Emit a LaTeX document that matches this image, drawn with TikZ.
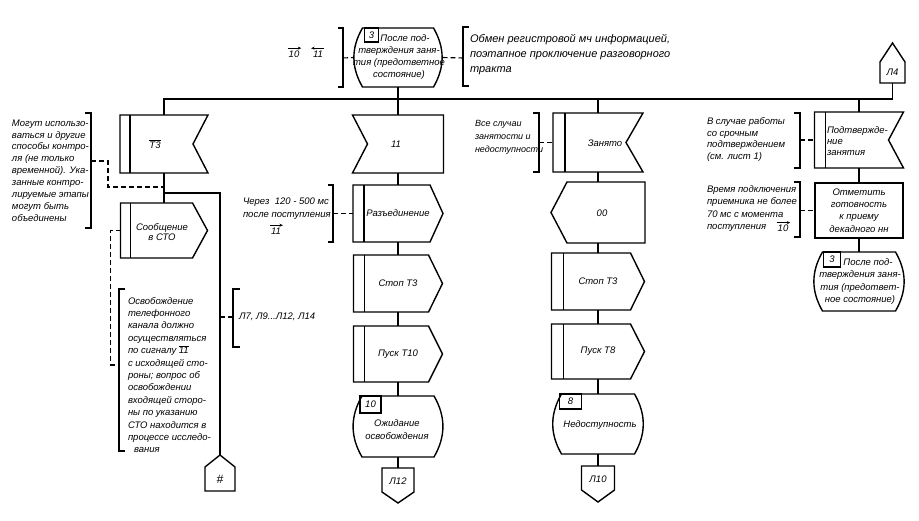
\documentclass[tikz,border=0pt]{standalone}
\usepackage{fontspec}
\setmainfont{Liberation Sans}
\usetikzlibrary{calc,arrows.meta}
\newcommand\fsz[2]{\fontsize{#1}{#2}\selectfont\itshape}
\newcommand\InR[3]{%
 \draw[shp] (#1.north west) -- (#1.north east) -- ([xshift=-#2pt]#1.east) -- (#1.south east) -- (#1.south west) -- cycle;
 \draw[shp] ([xshift=#3pt]#1.north west) -- ([xshift=#3pt]#1.south west);}
\newcommand\InL[2]{\draw[shp] (#1.north west) -- (#1.north east) -- (#1.south east) -- (#1.south west) -- ([xshift=#2pt]#1.west) -- cycle;}
\newcommand\OutR[3]{%
 \draw[shp] (#1.north west) -- ([xshift=-#2pt]#1.north east) -- (#1.east) -- ([xshift=-#2pt]#1.south east) -- (#1.south west) -- cycle;
 \draw[shp] ([xshift=#3pt]#1.north west) -- ([xshift=#3pt]#1.south west);}
\newcommand\OutL[2]{\draw[shp] ([xshift=#2pt]#1.north west) -- (#1.north east) -- (#1.south east) -- ([xshift=#2pt]#1.south west) -- (#1.west) -- cycle;}
\newcommand\StateShp[2]{\draw[shp] ([xshift=#2pt]#1.north west) -- ([xshift=-#2pt]#1.north east) to[out=-60,in=60] ([xshift=-#2pt]#1.south east) -- ([xshift=#2pt]#1.south west) to[out=120,in=-120] cycle;}
\newcommand\NumBox[5]{%
 \draw[shp, line width=1.1pt] ([xshift=#2pt]#1.north west) rectangle ++(#3,#4);
 \path ([xshift=#2pt]#1.north west) ++(#3/2,#4/2) node[txt] (#1n) {#5};}
\newcommand\ConnUp[2]{\draw[shp] (#1.south west) -- ([yshift=-#2pt]#1.north west) -- (#1.north) -- ([yshift=-#2pt]#1.north east) -- (#1.south east) -- cycle;}
\newcommand\ConnDown[2]{\draw[shp] (#1.north west) -- (#1.north east) -- ([yshift=#2pt]#1.south east) -- (#1.south) -- ([yshift=#2pt]#1.south west) -- cycle;}
\newcommand\Brk[4]{% x, y1, y2, tick (negative = left)
 \draw[brk] (#1+#4,#2) -- (#1,#2) -- (#1,#3) -- (#1+#4,#3);}
\newcommand\ArrR[1]{\draw[sig] ([xshift=-1pt,yshift=2.5pt]#1.north west) -- ([xshift=2pt,yshift=2.5pt]#1.north east);}
\newcommand\ArrL[1]{\draw[sig] ([xshift=1pt,yshift=2.5pt]#1.north east) -- ([xshift=-2pt,yshift=2.5pt]#1.north west);}
\tikzset{
 shp/.style={line width=1.4pt, line join=miter},
 conn/.style={line width=1.3pt},
 dsh/.style={line width=1.1pt, dash pattern=on 5pt off 3pt},
 brk/.style={line width=1.3pt},
 sig/.style={line width=0.8pt, -{Stealth[length=3.5pt,width=3pt]}},
 box/.style={inner sep=0pt, outer sep=0pt, font=\fsz{9.5}{12}},
 txt/.style={inner sep=0pt, outer sep=0pt, font=\fsz{9.5}{12}},
 sz/.style 2 args={minimum width=#1pt, minimum height=#2pt},
}
\begin{document}
\begin{tikzpicture}[x=1pt,y=-1pt]
\fill[white] (0,0) rectangle (919,521);
\useasboundingbox (0,0) rectangle (919,521);

% ---------- top state ----------
\node[box, sz={89}{59}] (ts) at (398,57.5) {};
\StateShp{ts}{9}
\NumBox{ts}{11}{14}{14}{3}
\node[txt, align=center] (tst) at (399,57) {\hspace*{12pt}После под-\\тверждения заня-\\тия (предответное\\состояние)};
\Brk{343}{28}{87}{-5}
\coordinate (bTL) at (343,58);
\draw[dsh] (bTL) -- (ts.west);
\node[txt] (a10) at (294,54) {10};
\ArrR{a10}
\node[txt] (a11) at (318,54) {11};
\ArrL{a11}
\Brk{463}{27}{86}{6}
\coordinate (bTR) at (463,58);
\draw[dsh] (ts.east) -- (bTR);
\node[txt, anchor=west, align=left, font=\fsz{11}{15}] (obmen) at (470,55) {Обмен регистровой мч информацией,\\поэтапное проключение разговорного\\тракта};

% ---------- connector L4 and bus ----------
\node[box, sz={25}{40}] (L4) at (892.5,63) {};
\ConnUp{L4}{19}
\node[txt] (L4t) at (892.5,72) {Л4};
\coordinate (busL) at (164,99);
\coordinate (busR) at (892.5,99);

% ---------- column 1 ----------
\node[box, sz={88}{58}] (in1) at (164,144) {};
\InR{in1}{15}{10}
\node[txt] (in1t) at (155,144) {$\overline{\hbox{Т3}}$};
\node[box, sz={87}{55}] (out1) at (164,230.5) {};
\OutR{out1}{15}{10}
\node[txt, align=center, font=\fsz{9.5}{10}] (out1t) at (162,232) {Сообщение\\в СТО};
\coordinate (j1) at (164,187);
\coordinate (j2) at (164,193);
\node[box, sz={30}{36}] (hash) at (220,473) {};
\ConnUp{hash}{12}
\node[txt, font=\fsz{12}{12}] (hasht) at (220,479) {\#};

\draw[conn] (L4.south) -- (busR) -- (busL) -- (in1.north);
\draw[conn] (in1.south) -- (out1.north);
\draw[conn] (j2) -| (hash.north);

\Brk{91}{113}{228}{-6}
\coordinate (bMog) at (91,161);
\draw[dsh] (bMog) -- ++(17,0) |- (j1);
\node[txt, anchor=west, align=left, font=\fsz{9.5}{11.9}] (mog) at (12,170.5) {Могут использо-\\ваться и другие\\способы контро-\\ля (не только\\временной). Ука-\\занные контро-\\лируемые этапы\\могут быть\\объединены};

\coordinate (bOsv) at (119,365);
\draw[dsh] (out1.west) -- ++(-10,0) |- (bOsv);
\Brk{119}{289}{451}{6}
\node[txt, anchor=west, align=left, font=\fsz{9.5}{12.4}] (osv) at (128,375) {Освобождение\\телефонного\\канала должно\\осуществляться\\по сигналу \smash{$\overline{\hbox{11}}$}\\с исходящей сто-\\роны; вопрос об\\освобождении\\входящей сторо-\\ны по указанию\\СТО находится в\\процессе исследо-\\\hspace*{6pt}вания};

\coordinate (jL7) at (220,317);
\Brk{233}{289}{347}{7}
\coordinate (bL7) at (233,317);
\draw[dsh] (jL7) -- (bL7);
\node[txt, anchor=west] (l7) at (239,317) {Л7, Л9...Л12, Л14};

% ---------- column 2 ----------
\node[box, sz={91}{58}] (in2) at (398,144) {};
\InL{in2}{15}
\node[txt] (in2t) at (396,144) {11};
\node[box, sz={90}{57}] (out2) at (398,213.5) {Разъединение};
\OutR{out2}{13}{11}
\node[box, sz={89}{57}] (out3) at (398,283.5) {Стоп Т3};
\OutR{out3}{14}{11}
\node[box, sz={89}{56}] (out4) at (398,354) {Пуск Т10};
\OutR{out4}{14}{11}
\node[box, sz={90}{61}] (st2) at (398,426.5) {};
\StateShp{st2}{9}
\NumBox{st2}{7}{21}{17}{10}
\node[txt, align=center, font=\fsz{9.5}{13}] (st2t) at (397,430) {Ожидание\\освобождения};
\node[box, sz={32}{35}] (c12) at (398,485.5) {};
\ConnDown{c12}{11}
\node[txt] (c12t) at (398,481) {Л12};

\draw[conn] (ts.south) -- (in2.north);
\draw[conn] (in2.south) -- (out2.north);
\draw[conn] (out2.south) -- (out3.north);
\draw[conn] (out3.south) -- (out4.north);
\draw[conn] (out4.south) -- (st2.north);
\draw[conn] (st2.south) -- (c12.north);

\Brk{333}{185}{242}{-5}
\coordinate (bCh) at (333,213.5);
\draw[dsh] (bCh) -- (out2.west);
\node[txt, anchor=west, align=left, font=\fsz{9.5}{13}] (cher) at (243,208.5) {Через\ \ 120 - 500 мс\\после поступления};
\node[txt] (c11) at (276,231) {11};
\ArrR{c11}

% ---------- column 3 ----------
\node[box, sz={90}{59}] (in3) at (598,142.5) {};
\InR{in3}{17}{12}
\node[txt] (in3t) at (605,143) {Занято};
\node[box, sz={94}{61}] (out5) at (598,212.5) {};
\OutL{out5}{16}
\node[txt] (out5t) at (602,213) {00};
\node[box, sz={93}{57}] (out6) at (598,281.5) {Стоп Т3};
\OutR{out6}{14}{12}
\node[box, sz={93}{55}] (out7) at (598,351.5) {Пуск Т8};
\OutR{out7}{14}{12}
\node[box, sz={91}{60}] (st3) at (598,424) {};
\StateShp{st3}{9}
\NumBox{st3}{7}{22}{15}{8}
\node[txt] (st3t) at (600,425) {Недоступность};
\node[box, sz={33}{36}] (c10) at (598,484) {};
\ConnDown{c10}{12}
\node[txt] (c10t) at (598,479) {Л10};

\draw[conn] (in3.north) -- (in3.north |- busL);
\draw[conn] (in3.south) -- (out5.north);
\draw[conn] (out5.south) -- (out6.north);
\draw[conn] (out6.south) -- (out7.north);
\draw[conn] (out7.south) -- (st3.north);
\draw[conn] (st3.south) -- (c10.north);

\Brk{539}{113}{172}{-6}
\coordinate (bVse) at (539,142.5);
\draw[dsh] (bVse) -- (in3.west);
\node[txt, anchor=west, align=left, font=\fsz{9}{13}] (vse) at (475,137) {Все случаи\\занятости и\\недоступности};

% ---------- column 4 ----------
\node[box, sz={89}{56}] (in4) at (859,140) {};
\InR{in4}{15}{11}
\node[txt, anchor=west, align=left, font=\fsz{9.5}{11}] (in4t) at (827,141) {Подтвержде-\\ние\\занятия};
\node[box, sz={88}{55}, draw, shp, align=center, font=\fsz{9.5}{12.3}] (mark) at (859,210.5) {Отметить\\готовность\\к приему\\декадного нн};
\node[box, sz={91}{59}] (st4) at (859,281.5) {};
\StateShp{st4}{9}
\NumBox{st4}{10}{17}{15}{3}
\node[txt, align=center, font=\fsz{9.5}{12.3}] (st4t) at (860,281.5) {\hspace*{16pt}После под-\\тверждения заня-\\тия (предответ-\\ное состояние)};

\draw[conn] (in4.north) -- (in4.north |- busL);
\draw[conn] (in4.south) -- (mark.north);
\draw[conn] (mark.south) -- (st4.north);

\Brk{800}{113}{168}{-6}
\coordinate (bSl) at (800,140);
\draw[dsh] (bSl) -- (in4.west);
\node[txt, anchor=west, align=left, font=\fsz{9.5}{11.7}] (sluch) at (707,139.5) {В случае работы\\со срочным\\подтверждением\\(см. лист 1)};
\Brk{800}{182}{237}{-6}
\coordinate (bVr) at (800,210.5);
\draw[dsh] (bVr) -- (mark.west);
\node[txt, anchor=west, align=left, font=\fsz{9.5}{12.3}] (vrem) at (707,208.5) {Время подключения\\приемника не более\\70 мс с момента\\поступления};
\node[txt] (v10) at (783,228.5) {10};
\ArrR{v10}
\end{tikzpicture}
\end{document}
